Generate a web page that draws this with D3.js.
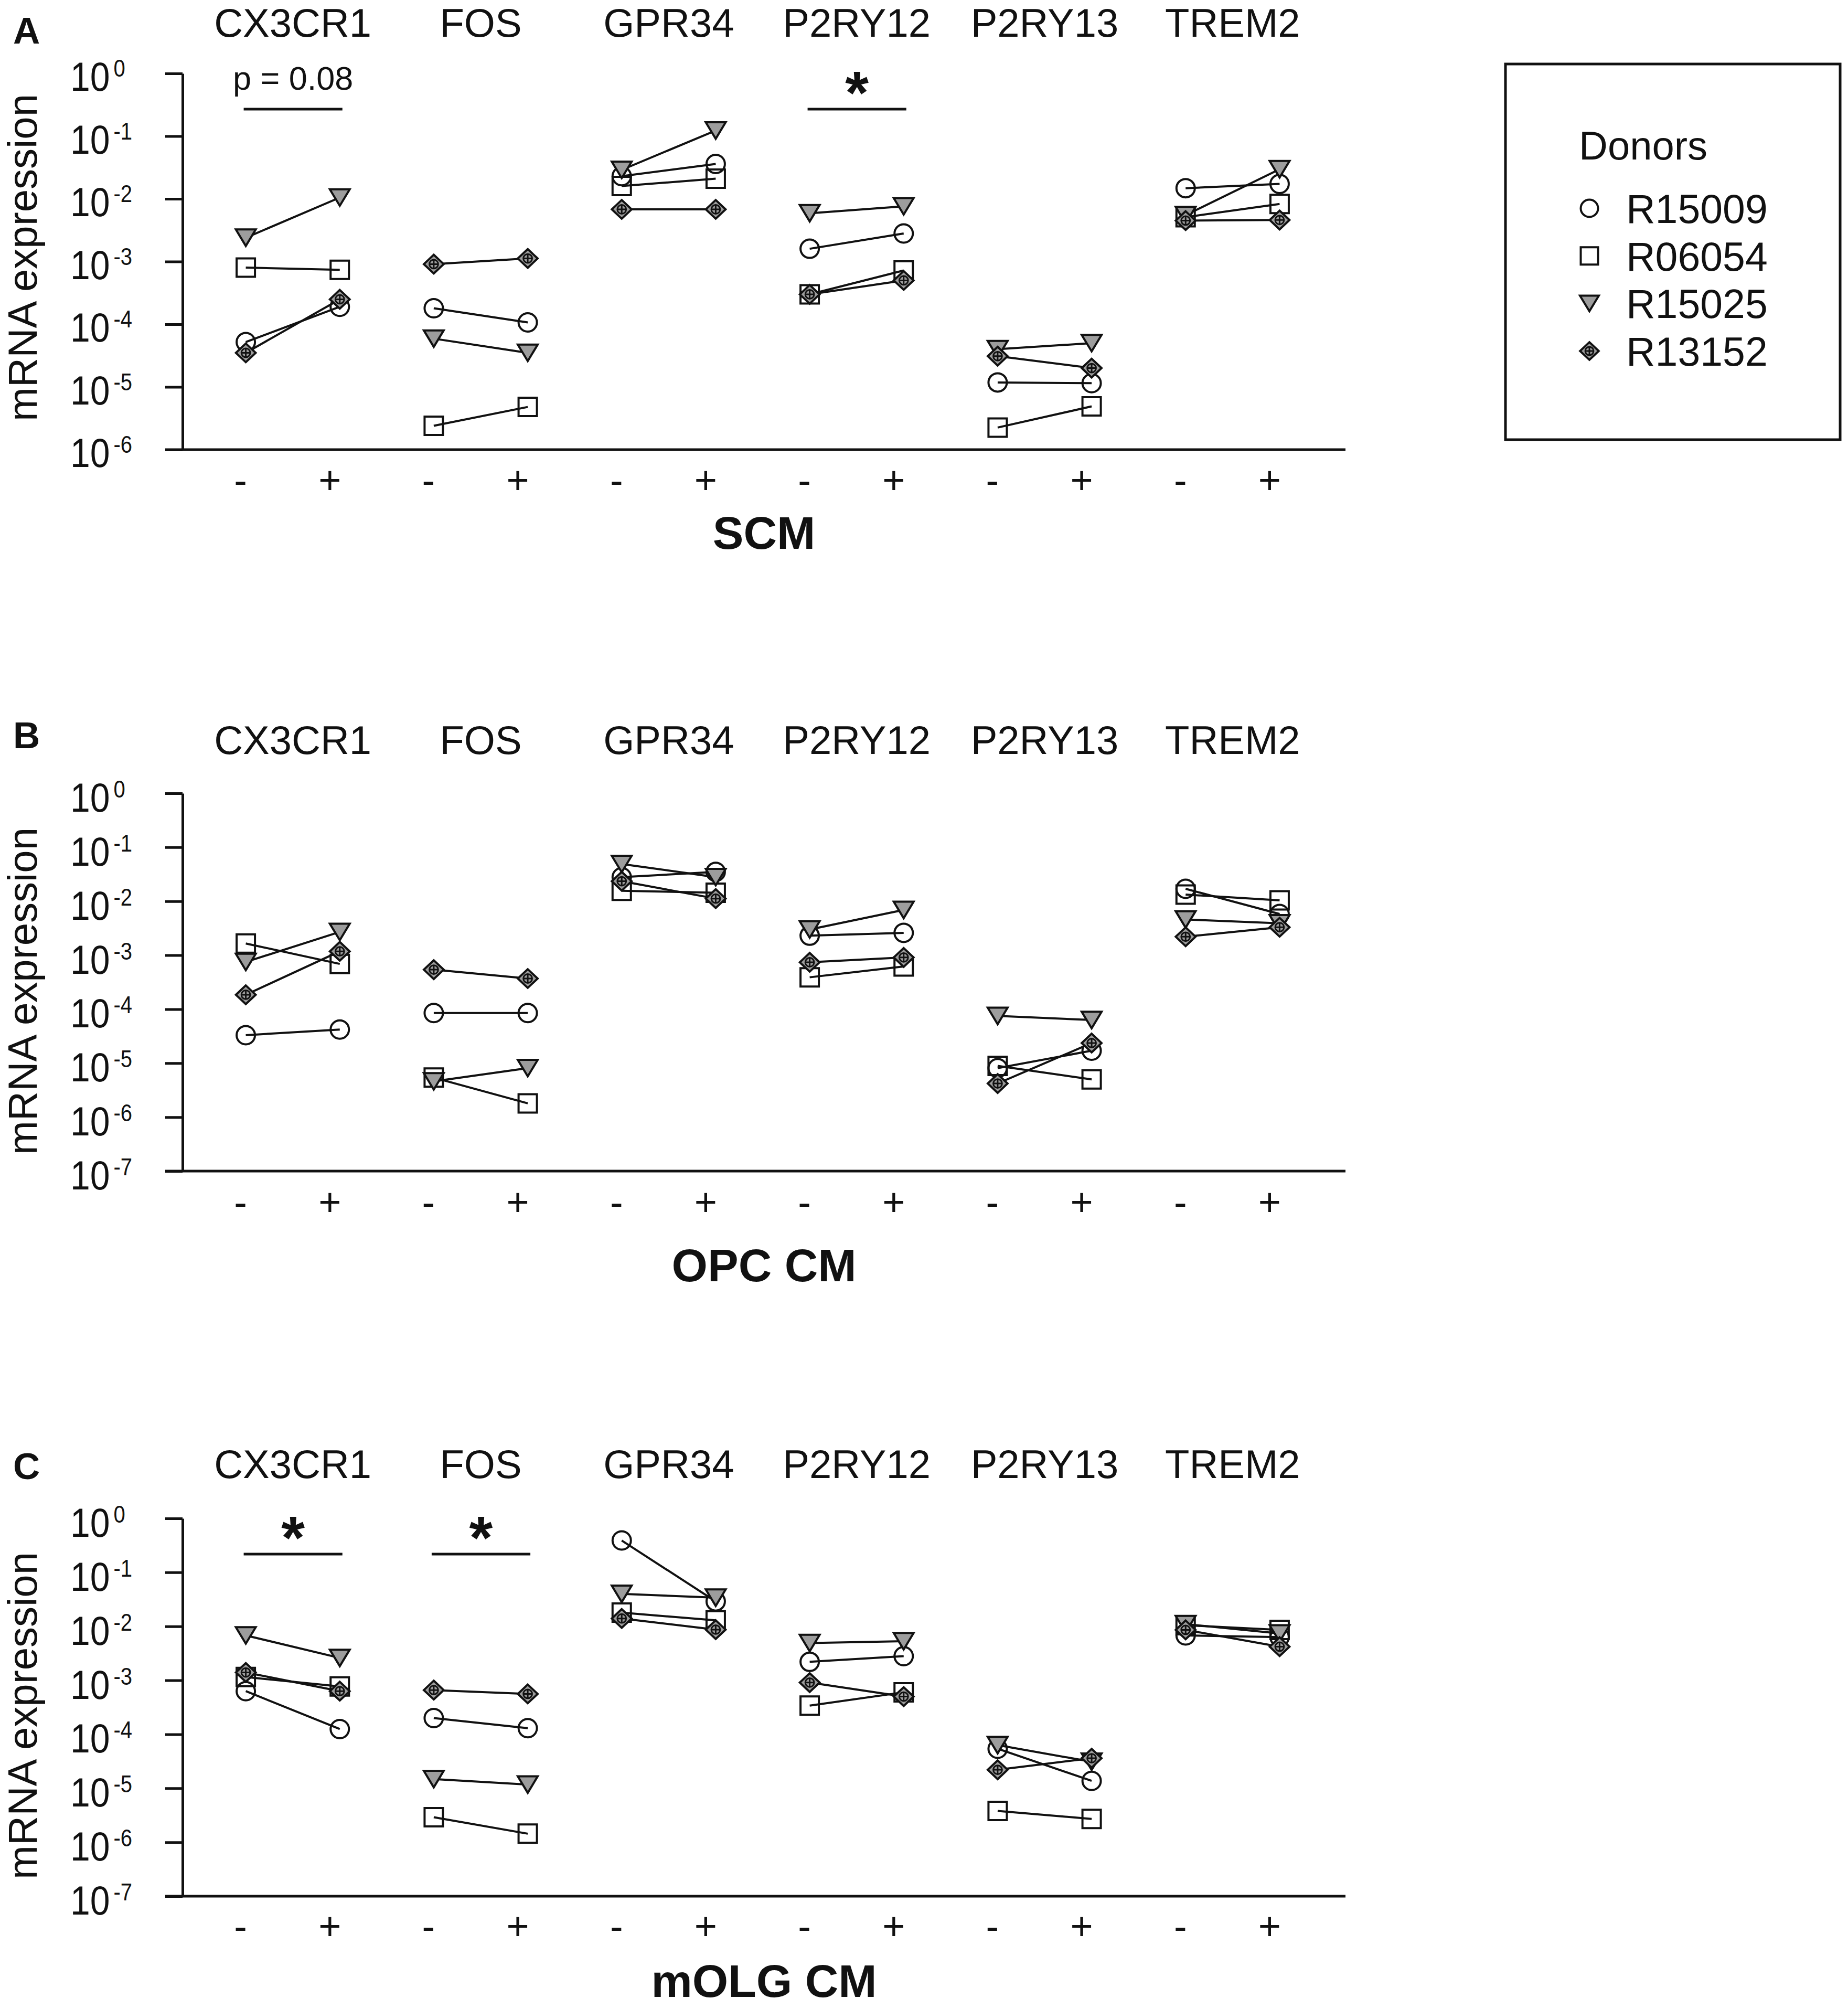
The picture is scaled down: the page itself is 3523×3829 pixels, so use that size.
<!DOCTYPE html>
<html>
<head>
<meta charset="utf-8">
<script src="https://cdn.jsdelivr.net/npm/d3@7"></script>
<style>
  html, body { margin: 0; padding: 0; background: #fff; }
  svg { display: block; }
  text { font-family: "Liberation Sans", Arial, Helvetica, sans-serif; fill: #111; }
</style>
</head>
<body>
<svg id="chart" width="3523" height="3829"></svg>
<script>
// ---------------- DATA ----------------
const genes = ["CX3CR1", "FOS", "GPR34", "P2RY12", "P2RY13", "TREM2"];
const treatments = ["-", "+"];
const donors = ["R15009", "R06054", "R15025", "R13152"];
const panelLetters = ["A", "B", "C"];
const panelTitles = ["SCM", "OPC CM", "mOLG CM"];
const yTicksA = [1, 1e-1, 1e-2, 1e-3, 1e-4, 1e-5, 1e-6];
const yTicksBC = [1, 1e-1, 1e-2, 1e-3, 1e-4, 1e-5, 1e-6, 1e-7];
const yAxisLabel = "mRNA expression";
const legendTitle = "Donors";

// values per donor, ordered gene by gene as [-, +]
// Panel A: SCM
const scm_R15009 = [5.2e-5, 1.9e-4, 1.8e-4, 1.07e-4, 2.3e-2, 3.6e-2, 1.6e-3, 2.8e-3, 1.18e-5, 1.15e-5, 1.48e-2, 1.73e-2];
const scm_R06054 = [8.0e-4, 7.4e-4, 2.4e-6, 4.8e-6, 1.6e-2, 2.1e-2, 3.0e-4, 7.2e-4, 2.25e-6, 4.9e-6, 5.1e-3, 8.3e-3];
const scm_R15025 = [2.4e-3, 1.05e-2, 5.9e-5, 3.5e-5, 2.9e-2, 1.23e-1, 5.9e-3, 7.6e-3, 4.0e-5, 5.0e-5, 5.5e-3, 2.97e-2];
const scm_R13152 = [3.5e-5, 2.5e-4, 9.1e-4, 1.12e-3, 6.8e-3, 6.8e-3, 3.0e-4, 5.0e-4, 3.1e-5, 2.0e-5, 4.5e-3, 4.6e-3];
// Panel B: OPC CM
const opc_R15009 = [3.3e-5, 4.2e-5, 8.5e-5, 8.5e-5, 2.8e-2, 3.5e-2, 2.3e-3, 2.6e-3, 8.1e-6, 1.7e-5, 1.7e-2, 5.8e-3];
const opc_R06054 = [1.65e-3, 6.9e-4, 5.4e-6, 1.8e-6, 1.56e-2, 1.44e-2, 3.9e-4, 6.2e-4, 8.9e-6, 5.0e-6, 1.33e-2, 1.04e-2];
const opc_R15025 = [7.5e-4, 2.7e-3, 4.6e-6, 8.1e-6, 4.9e-2, 2.8e-2, 3.0e-3, 6.9e-3, 7.5e-5, 6.3e-5, 4.6e-3, 3.9e-3];
const opc_R13152 = [1.85e-4, 1.18e-3, 5.4e-4, 3.7e-4, 2.35e-2, 1.12e-2, 7.4e-4, 9.1e-4, 4.2e-6, 2.36e-5, 2.2e-3, 3.3e-3];
// Panel C: mOLG CM
const molg_R15009 = [6.3e-4, 1.25e-4, 2.0e-4, 1.3e-4, 3.9e-1, 2.9e-2, 2.2e-3, 2.8e-3, 5.4e-5, 1.37e-5, 6.8e-3, 6.3e-3];
const molg_R06054 = [1.15e-3, 7.7e-4, 2.9e-6, 1.44e-6, 1.8e-2, 1.29e-2, 3.4e-4, 6.0e-4, 3.8e-6, 2.7e-6, 1.05e-2, 8.6e-3];
const molg_R15025 = [6.8e-3, 2.6e-3, 1.48e-5, 1.17e-5, 4.0e-2, 3.4e-2, 4.9e-3, 5.3e-3, 6.3e-5, 3.1e-5, 1.1e-2, 7.4e-3];
const molg_R13152 = [1.4e-3, 6.3e-4, 6.6e-4, 5.6e-4, 1.4e-2, 8.7e-3, 9.1e-4, 5.0e-4, 2.2e-5, 3.6e-5, 8.6e-3, 4.2e-3];

// significance annotations
const sigPanel = [0, 0, 2, 2];
const sigGene = ["CX3CR1", "P2RY12", "CX3CR1", "FOS"];
const sigLabel = ["p = 0.08", "*", "*", "*"];

// ---------------- LAYOUT / STYLE ----------------
const GRAY = "#9d9d9d";
const L = {
  axisX: 348, axisRight: 2565, tickLen: 33,
  bandLeft: 379, bandRight: 2529,
  tickLabelX: 140,
  letterX: 25,
  yLabelX: 70,
  signOffset: { "-": -10, "+": -19 }
};
const panelLayout = [
  { top: 140,  bottom: 857,  yMin: 1e-6, ticks: yTicksA,  letterBase: 83,   geneBase: 70,   signBase: 941,  titleBase: 1046, yLabelC: 491,  tickDy: 33 },
  { top: 1512, bottom: 2232, yMin: 1e-7, ticks: yTicksBC, letterBase: 1426, geneBase: 1437, signBase: 2317, titleBase: 2442, yLabelC: 1889, tickDy: 35 },
  { top: 2894, bottom: 3614, yMin: 1e-7, ticks: yTicksBC, letterBase: 2819, geneBase: 2817, signBase: 3697, titleBase: 3806, yLabelC: 3270, tickDy: 35 }
];
const panelData = [
  [scm_R15009, scm_R06054, scm_R15025, scm_R13152],
  [opc_R15009, opc_R06054, opc_R15025, opc_R13152],
  [molg_R15009, molg_R06054, molg_R15025, molg_R13152]
];

// marker shapes per donor
function shapePath(donorIdx, s) {
  const h = s / 2;
  if (donorIdx === 0) { // circle
    return `M${h},0A${h},${h} 0 1,1 ${-h},0A${h},${h} 0 1,1 ${h},0Z`;
  } else if (donorIdx === 1) { // square
    return `M${-h},${-h}H${h}V${h}H${-h}Z`;
  } else if (donorIdx === 2) { // down triangle
    const th = h * 0.9;
    return `M${-h - 1.5},${-th}H${h + 1.5}L0,${th}Z`;
  } else { // diamond
    const dw = h * 1.08, dh = h * 1.02;
    return `M0,${-dh}L${dw},0L0,${dh}L${-dw},0Z`;
  }
}
function drawMarker(g, donorIdx, x, y, s) {
  const grp = g.append("g").attr("transform", `translate(${x},${y})`);
  const fill = donorIdx >= 2 ? GRAY : "none";
  grp.append("path").attr("d", shapePath(donorIdx, s))
    .attr("fill", fill).attr("stroke", "#111").attr("stroke-width", 4).attr("stroke-linejoin", "miter");
  if (donorIdx === 3) {
    const r = s * 0.24;
    grp.append("circle").attr("r", r).attr("fill", "none").attr("stroke", "#111").attr("stroke-width", 3);
    grp.append("path").attr("d", `M${-r},0H${r}M0,${-r}V${r}`).attr("stroke", "#111").attr("stroke-width", 3);
  }
}

// ---------------- DRAW ----------------
const svg = d3.select("#chart");
svg.append("rect").attr("width", 3523).attr("height", 3829).attr("fill", "#fff");

const x = d3.scaleBand().domain(genes).range([L.bandLeft, L.bandRight]).padding(0);
const sub = d3.scalePoint().domain(treatments).range([0, x.bandwidth()]).padding(0.5);
const px = (gene, t) => x(gene) + sub(t);

panelLayout.forEach((P, pi) => {
  const g = svg.append("g");
  const y = d3.scaleLog().domain([P.yMin, 1]).range([P.bottom, P.top]);

  // panel letter
  g.append("text").attr("x", L.letterX).attr("y", P.letterBase)
    .attr("font-size", 71).attr("font-weight", "bold").text(panelLetters[pi]);

  // gene titles
  g.selectAll(".gene").data(genes).enter().append("text")
    .attr("x", d => x(d) + x.bandwidth() / 2).attr("y", P.geneBase)
    .attr("text-anchor", "middle").attr("font-size", 76).text(d => d);

  // y axis
  const yAxis = d3.axisLeft(y).tickValues(P.ticks).tickSize(L.tickLen).tickSizeOuter(0).tickFormat("");
  const ya = g.append("g").attr("transform", `translate(${L.axisX},0)`).call(yAxis);
  ya.selectAll("path, line").attr("stroke", "#111").attr("stroke-width", 5);

  // tick labels 10^n (slightly condensed, like the reference)
  P.ticks.forEach(t => {
    const e = Math.round(Math.log10(t));
    const tx = g.append("text")
      .attr("transform", `translate(${L.tickLabelX - 6},${y(t) + P.tickDy}) scale(0.87,1)`)
      .attr("font-size", 78);
    tx.append("tspan").text("10");
    tx.append("tspan").attr("font-size", 46).attr("dx", 8).attr("dy", -27).text(String(e));
  });

  // x axis line
  g.append("line").attr("x1", L.axisX - L.tickLen).attr("x2", L.axisRight)
    .attr("y1", y(P.yMin)).attr("y2", y(P.yMin)).attr("stroke", "#111").attr("stroke-width", 5);

  // - / + labels
  genes.forEach(gene => {
    treatments.forEach(t => {
      g.append("text").attr("x", px(gene, t) + L.signOffset[t]).attr("y", P.signBase)
        .attr("text-anchor", "middle").attr("font-size", 74).text(t);
    });
  });

  // panel title
  g.append("text").attr("x", (L.axisX + L.axisRight) / 2).attr("y", P.titleBase)
    .attr("text-anchor", "middle").attr("font-size", 88).attr("font-weight", "bold").text(panelTitles[pi]);

  // y label
  g.append("text").attr("transform", `translate(${L.yLabelX},${P.yLabelC}) rotate(-90)`)
    .attr("text-anchor", "middle").attr("font-size", 78).text(yAxisLabel);

  // lines
  const lineGen = d3.line().x(d => d[0]).y(d => d[1]);
  const data = panelData[pi];
  data.forEach((vals) => {
    genes.forEach((gene, gi) => {
      const pts = treatments.map((t, ti) => [px(gene, t), y(vals[gi * 2 + ti])]);
      g.append("path").attr("d", lineGen(pts)).attr("fill", "none")
        .attr("stroke", "#111").attr("stroke-width", 4);
    });
  });
  // markers
  data.forEach((vals, di) => {
    genes.forEach((gene, gi) => {
      treatments.forEach((t, ti) => {
        drawMarker(g, di, px(gene, t), y(vals[gi * 2 + ti]), 35);
      });
    });
  });

  // significance
  sigPanel.forEach((sp, si) => {
    if (sp !== pi) return;
    const gene = sigGene[si];
    const x1 = px(gene, "-") - 4, x2 = px(gene, "+") + 5;
    const by = P.top + 68;
    g.append("line").attr("x1", x1).attr("x2", x2).attr("y1", by).attr("y2", by)
      .attr("stroke", "#111").attr("stroke-width", 5);
    const cx = (x1 + x2) / 2;
    if (sigLabel[si] === "*") {
      g.append("text").attr("x", cx).attr("y", P.top + 76).attr("text-anchor", "middle")
        .attr("font-size", 115).attr("font-weight", "bold").text("*");
    } else {
      g.append("text").attr("x", cx).attr("y", P.top + 31).attr("text-anchor", "middle")
        .attr("font-size", 63).text(sigLabel[si]);
    }
  });
});

// legend
const lg = svg.append("g");
lg.append("rect").attr("x", 2870).attr("y", 122).attr("width", 638).attr("height", 716)
  .attr("fill", "none").attr("stroke", "#111").attr("stroke-width", 5);
lg.append("text").attr("x", 3010).attr("y", 304).attr("font-size", 76).text(legendTitle);
const legY = d3.scalePoint().domain(donors).range([425, 697]);
donors.forEach((d, di) => {
  drawMarker(lg, di, 3030, legY(d) - 28, 33);
  lg.append("text").attr("x", 3100).attr("y", legY(d)).attr("font-size", 77).text(d);
});
</script>
</body>
</html>
